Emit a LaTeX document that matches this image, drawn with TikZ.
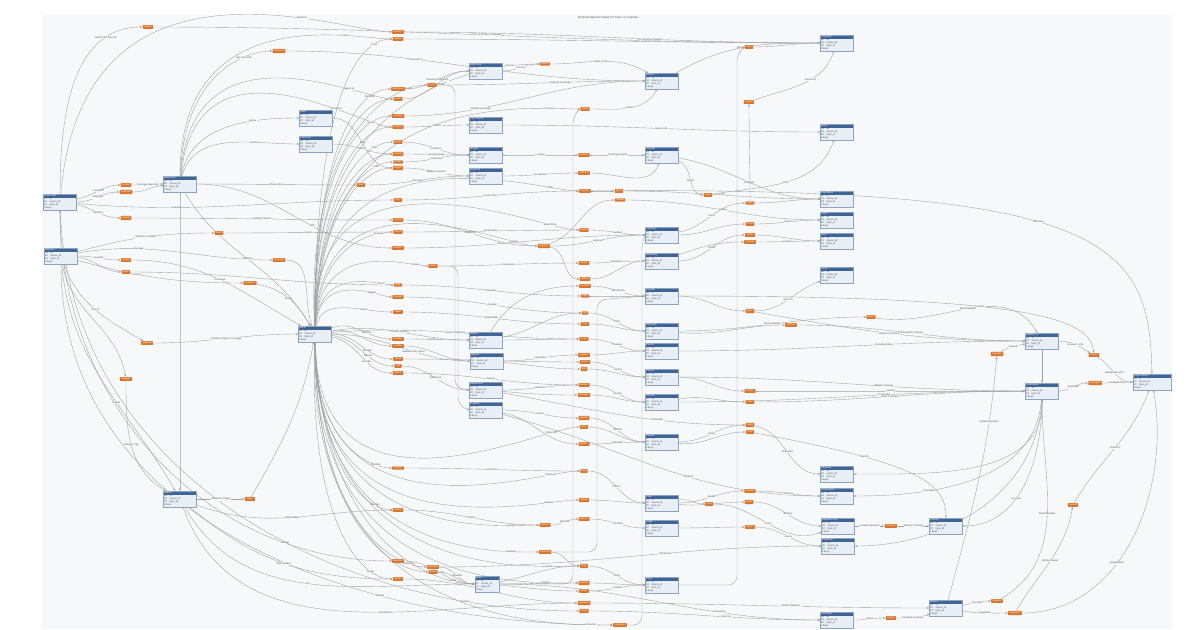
\documentclass[tikz,border=0pt]{standalone}
\usepackage{fontspec}
\setmainfont{Liberation Sans}
\usetikzlibrary{arrows.meta}

\definecolor{canvas}{HTML}{F6F8FA}
\definecolor{hdrblue}{HTML}{3E6596}
\definecolor{rowfill}{HTML}{E8EEF6}
\definecolor{rowline}{HTML}{8EA3BD}
\definecolor{tagorange}{HTML}{D9762C}
\definecolor{linkgray}{HTML}{A2A2A2}
\definecolor{lbltext}{HTML}{505050}

\pgfdeclarelayer{canvaslayer}
\pgfdeclarelayer{wires}
\pgfsetlayers{canvaslayer,wires,main}

\newcommand{\tinyfont}{\fontsize{1.4}{1.75}\selectfont}
% entity box: options, name, position, title
\newcommand{\entity}[4][]{\node[entity,#1] (#2) at (#3) {{\color{white}#4}\\PK\quad id\\FK\quad source\_id\\FK\quad topic\_id\\[0.1pt]3 keys};}
% orange relation tag: name, position, text
\newcommand{\tagnode}[3]{\node[tagbox] (#1) at (#2) {#3};}

\tikzset{
  entity/.style={draw=rowline, fill=rowfill, line width=0.2pt, text width=0.64cm, align=left,
    inner sep=0.3pt, font=\tinyfont, text=lbltext,
    path picture={\fill[hdrblue] (path picture bounding box.north west) rectangle ([yshift=-2.3pt]path picture bounding box.north east);}},
  tagbox/.style={fill=tagorange, rounded corners=0.3pt, inner xsep=0.8pt, inner ysep=0.5pt,
    font=\tinyfont, text=white},
  link/.style={draw=linkgray, line width=0.22pt, -{Stealth[length=1.5pt,width=1.2pt]}},
  lbl/.style={font=\tinyfont, text=lbltext, fill=canvas, inner sep=0.2pt},
  fan/.style={out looseness=1.8, in looseness=0.35},
}

\begin{document}
\begin{tikzpicture}[x=0.02cm, y=-0.02cm]
\useasboundingbox (0,0) rectangle (1199,629);
\begin{pgfonlayer}{canvaslayer}
  \fill[canvas] (42,15) rectangle (1172,629);
\end{pgfonlayer}
\node[font=\fontsize{1.6}{2}\selectfont, text=lbltext] (title) at (608,18) {Temporal Reporter Graph (47 Tags / 17 Capsule)};

% entities
\entity{e1}{60,202}{Search Bot}
\entity{e2}{61,256}{Reporter}
\entity{e3}{180,184}{Newsroom}
\entity{e4}{315,334}{Article}
\entity{e5}{180,499}{Station}
\entity{e6}{316,118}{Editor}
\entity{e7}{316,144}{Columnist}
\entity{e8}{486,71}{Ordinance}
\entity{e9}{486,125}{City Council}
\entity{e10}{486,155}{Budget}
\entity{e11}{486,176}{Proposal}
\entity{e12}{662,81}{Source}
\entity{e13}{662,155}{Hospital}
\entity{e14}{837,43}{Chairman}
\entity{e15}{837,132}{Board}
\entity{e16}{837,199}{Foundation}
\entity{e17}{837,220}{Trust}
\entity{e18}{837,241}{Fund}
\entity{e19}{837,275}{Donor}
\entity{e20}{662,235}{Company}
\entity{e21}{662,261}{Subsidiary}
\entity{e22}{662,296}{Founder}
\entity{e23}{662,331}{Executive}
\entity{e24}{662,351}{Investor}
\entity{e25}{662,377}{Partner}
\entity{e26}{662,402}{Director}
\entity{e27}{486,340}{Official}
\entity{e28}{487,361}{Agency}
\entity{e29}{486,390}{Department}
\entity{e30}{486,410}{Program}
\entity{e31}{662,442}{Lawsuit}
\entity{e32}{662,503}{Court}
\entity{e33}{662,528}{Judge}
\entity{e34}{662,585}{Filing}
\entity[text width=0.46cm]{e35}{487,584}{Event}
\entity{e36}{1042,341}{Holding Co.}
\entity{e37}{1042,391}{Corporation}
\entity[text width=0.74cm]{e38}{1152,382}{Parent Group}
\entity{e39}{837,474}{Regulator}
\entity{e40}{837,496}{Commission}
\entity{e41}{838,526}{Research Lab}
\entity{e42}{838,546}{University}
\entity{e43}{946,526}{Institute}
\entity{e44}{946,608}{Market}
\entity{e45}{837,620}{Exchange}

% tags, first column
\tagnode{c1}{398,32}{mention}
\tagnode{c2}{398,39}{relative}
\tagnode{c3}{398,89}{ordinance}
\tagnode{c4}{398,99}{quote}
\tagnode{c5}{398,116}{coverage}
\tagnode{c6}{398,127}{location}
\tagnode{c7}{398,142}{quote}
\tagnode{c8}{398,154}{funding}
\tagnode{c9}{398,162}{owner}
\tagnode{c10}{398,168}{budget}
\tagnode{c11}{398,200}{story}
\tagnode{c12}{398,220}{partner}
\tagnode{c13}{398,232}{board}
\tagnode{c14}{398,248}{mention}
\tagnode{c15}{398,285}{exec}
\tagnode{c16}{398,297}{founder}
\tagnode{c17}{398,312}{holder}
\tagnode{c18}{398,339}{member}
\tagnode{c19}{398,346}{member}
\tagnode{c20}{398,359}{official}
\tagnode{c21}{398,366}{staff}
\tagnode{c22}{398,373}{advisor}
\tagnode{c23}{398,468}{contract}
\tagnode{c24}{398,510}{partner}
\tagnode{c25}{398,561}{sponsor}
\tagnode{c26}{398,579}{vendor}

% tags, middle column
\tagnode{m1}{585,109}{linked}
\tagnode{m2}{584,155}{location}
\tagnode{m3}{584,173}{cofound}
\tagnode{m4}{585,191}{mention}
\tagnode{m5}{584,230}{board}
\tagnode{m6}{584,263}{subsid.}
\tagnode{m7}{585,279}{affiliate}
\tagnode{m8}{585,286}{founded}
\tagnode{m9}{585,296}{exec}
\tagnode{m10}{585,313}{ceo}
\tagnode{m11}{585,324}{share}
\tagnode{m12}{584,339}{invest}
\tagnode{m13}{584,355}{regulate}
\tagnode{m14}{585,362}{partner}
\tagnode{m15}{584,369}{ally}
\tagnode{m16}{584,385}{director}
\tagnode{m17}{584,395}{manager}
\tagnode{m18}{584,418}{plaintiff}
\tagnode{m19}{584,427}{party}
\tagnode{m20}{584,444}{defend.}
\tagnode{m21}{584,471}{filed}
\tagnode{m22}{584,500}{appeal}
\tagnode{m23}{584,519}{witness}
\tagnode{m24}{584,566}{filing}
\tagnode{m25}{584,583}{hearing}
\tagnode{m26}{584,591}{exhibit}
\tagnode{m27}{584,603}{regulator}
\tagnode{m28}{584,611}{listing}

% tags, right column
\tagnode{r1}{749,47}{chair}
\tagnode{r2}{749,102}{served}
\tagnode{r3}{750,203}{owns}
\tagnode{r4}{750,224}{funds}
\tagnode{r5}{750,235}{parent}
\tagnode{r6}{750,242}{donates}
\tagnode{r7}{750,311}{gives}
\tagnode{r8}{750,391}{investor}
\tagnode{r9}{750,402}{sister}
\tagnode{r10}{750,425}{ruling}
\tagnode{r11}{750,432}{cited}
\tagnode{r12}{750,491}{referred}
\tagnode{r13}{749,502}{study}
\tagnode{r14}{750,527}{alumni}

% other tags
\tagnode{o1}{148,27}{search}
\tagnode{o2}{279,51}{transcript}
\tagnode{o3}{126,185}{located}
\tagnode{o4}{126,192}{employer}
\tagnode{o5}{361,185}{story}
\tagnode{o6}{545,64}{source}
\tagnode{o7}{432,85}{series}
\tagnode{o8}{619,191}{grant}
\tagnode{o9}{620,200}{trustee}
\tagnode{o10}{708,195}{chair}
\tagnode{o11}{126,218}{funding}
\tagnode{o12}{219,233}{funds}
\tagnode{o13}{126,260}{funded}
\tagnode{o14}{126,272}{grant}
\tagnode{o15}{279,260}{coverage}
\tagnode{o16}{250,283}{located in}
\tagnode{o17}{147,343}{program}
\tagnode{o18}{126,379}{category}
\tagnode{o19}{544,246}{acquired}
\tagnode{o20}{433,266}{linked}
\tagnode{o21}{791,325}{cofound}
\tagnode{o22}{250,499}{region}
\tagnode{o23}{545,525}{witness}
\tagnode{o24}{545,552}{summary}
\tagnode{o25}{433,567}{attended}
\tagnode{o26}{433,572}{guest}
\tagnode{o27}{709,504}{grant}
\tagnode{o28}{620,625}{correction}
\tagnode{o29}{871,317}{board}
\tagnode{o30}{997,354}{regulator}
\tagnode{o31}{1094,355}{located}
\tagnode{o32}{1095,383}{employed}
\tagnode{o33}{891,526}{research}
\tagnode{o34}{997,601}{founded}
\tagnode{o35}{1015,613}{regulation}
\tagnode{o36}{1073,505}{owned}
\tagnode{o37}{891,618}{parent}

\begin{pgfonlayer}{wires}
% left boxes
\draw[link] (e1) to[out=90,in=180] node[lbl,pos=.8]{Search Bot Sources} (o1);
\draw[link] (e1) to[out=85,in=180,fan] node[lbl,pos=.7]{Mentions} (c1);
\draw[link] (o1) to[out=0,in=180] node[lbl]{Part of Broader Coverage} (e14);
\draw[link] (e1) to[out=10,in=180] node[lbl]{Located in} (o3);
\draw[link] (e1) to[out=0,in=180] node[lbl]{Employer} (o4);
\draw[link] (o3) to[out=0,in=180] node[lbl]{Coverage Reporting} (e3);
\draw[link] (o4) to[out=0,in=185] (e3);
\draw[link] (e1) to[out=-5,in=180] node[lbl,pos=.3]{Funded} (c11);
\draw[link] (e1) to[out=-10,in=180] node[lbl]{Mentions} (o11);
\draw[link] (o11) to[out=0,in=180] node[lbl]{Funding Partners} (c12);
\draw[link] (e1) to[out=270,in=180] node[lbl,pos=.8]{Sidebar} (c25);
\draw[link] (e1) to[out=272,in=180] node[lbl,pos=.85]{Mentions} (m28);
\draw[link] (e2) to[out=90,in=270] (e1);
\draw[link] (e2) to[out=0,in=180] node[lbl]{Funded} (o13);
\draw[link] (e2) to[out=-5,in=180] (o14);
\draw[link] (e2) to[out=10,in=180] node[lbl,pos=.3]{Coverage} (o15);
\draw[link] (e2) to[out=-15,in=180] node[lbl,pos=.35]{Located} (o16);
\draw[link] (e2) to[out=290,in=150] node[lbl]{Part of} (o17);
\draw[link] (e2) to[out=280,in=100] (o18);
\draw[link] (e2) to[out=15,in=180] node[lbl]{Mentions Funding} (o12);
\draw[link] (e2) to[out=275,in=120] node[lbl,pos=.6]{Region} (e5);
\draw[link] (e2) to[out=270,in=180] node[lbl,pos=.7]{Weekly} (o28);
\draw[link] (o12) to[out=0,in=180] node[lbl]{Funds} (c13);
\draw[link] (o13) to[out=0,in=150] node[lbl]{Coverage} (e4);
\draw[link] (o14) to[out=0,in=180] (c15);
\draw[link] (o15) to[out=0,in=110] (e4);
\draw[link] (o16) to[out=-10,in=120] node[lbl]{Author} (e4);
\draw[link] (o17) to[out=0,in=180] node[lbl]{Includes Program Coverage} (e4);
\draw[link] (o18) to[out=270,in=150] node[lbl]{Category Tag} (e5);
% newsroom
\draw[link] (e3) to[out=90,in=180,fan] node[lbl,pos=.75]{Covers} (c2);
\draw[link] (e3) to[out=88,in=180,fan] node[lbl,pos=.7]{Has Transcript} (o2);
\draw[link] (e3) to[out=86,in=180,fan] node[lbl,pos=.75]{Tagged as} (c4);
\draw[link] (e3) to[out=84,in=180,fan] node[lbl,pos=.7]{Located in} (c6);
\draw[link] (e3) to[out=80,in=180] node[lbl,pos=.7]{Byline} (e6);
\draw[link] (e3) to[out=75,in=180] node[lbl,pos=.7]{Column in} (e7);
\draw[link] (e3) to[out=0,in=180] node[lbl,pos=.6]{Staff} (c14);
\draw[link] (e3) to[out=0,in=180] node[lbl]{Shares Story} (o5);
\draw[link] (o5) to[out=0,in=180] node[lbl]{Coverage} (e11);
\draw[link] (e3) to[out=270,in=90] (e5);
\draw[link] (e3) to[out=300,in=120] node[lbl]{Publishes} (e4);
\draw[link] (o2) to[out=0,in=180] node[lbl,pos=.35]{Transcript of} (e12);
\draw[link] (e6) to[out=0,in=180] node[lbl]{Edits} (c10);
\draw[link] (e7) to[out=0,in=180] node[lbl]{Writes} (c8);
% station
\draw[link] (e5) to[out=0,in=180] node[lbl]{Located in Region} (o22);
\draw[link] (o22) to[out=60,in=260] (e4);
\draw[link] (e5) to[out=-20,in=180] node[lbl]{Board Editor} (c24);
\draw[link] (e5) to[out=-40,in=180] node[lbl]{Sister Station} (c26);
\draw[link] (e5) to[out=-70,in=180] node[lbl,pos=.6]{Broadcasts} (m27);
\draw[link] (e5) to[out=-60,in=180] node[lbl]{Airs} (e35);

% article hub, upward fan
\draw[link] (e4) to[out=90,in=180,fan] node[lbl,pos=.85]{Chair} (c2);
\draw[link] (e4) to[out=90,in=180,fan] node[lbl,pos=.8]{Mentions} (c3);
\draw[link] (e4) to[out=91,in=180,fan] (c4);
\draw[link] (e4) to[out=91,in=180,fan] node[lbl,pos=.8]{Quotes} (c5);
\draw[link] (e4) to[out=90,in=180,fan] (c6);
\draw[link] (e4) to[out=89,in=180,fan] node[lbl,pos=.8]{Cites} (c7);
\draw[link] (e4) to[out=89,in=180,fan] (c8);
\draw[link] (e4) to[out=88,in=180,fan] node[lbl,pos=.8]{Links} (c9);
\draw[link] (e4) to[out=88,in=180,fan] (c10);
\draw[link] (e4) to[out=87,in=180,fan] node[lbl,pos=.8]{Features} (c13);
\draw[link] (e4) to[out=86,in=180,fan] node[lbl,pos=.8]{About} (c15);
\draw[link] (e4) to[out=85,in=180,fan] node[lbl,pos=.7]{Tagged} (c16);
\draw[link] (e4) to[out=80,in=180] node[lbl,pos=.7]{Covers} (c17);
\draw[link] (e4) to[out=92,in=180,fan] node[lbl,pos=.85]{Sources} (o6);
\draw[link] (e4) to[out=93,in=180,fan] node[lbl,pos=.85]{Series} (o7);
\draw[link] (e4) to[out=90,in=180,fan] node[lbl,pos=.85]{Context} (m1);
\draw[link] (e4) to[out=89,in=180,fan] node[lbl,pos=.85]{Profile} (m4);
\draw[link] (e4) to[out=88,in=180,fan] node[lbl,pos=.85]{Follows} (o19);
\draw[link] (e4) to[out=87,in=180,fan] node[lbl,pos=.85]{Names} (o20);
\draw[link] (e4) to[out=91,in=180,fan] node[lbl,pos=.85]{Board Role} (m5);
% article hub, sideways
\draw[link] (e4) to[out=20,in=180] node[lbl,pos=.6]{Member} (c18);
\draw[link] (e4) to[out=10,in=180] (c19);
\draw[link] (e4) to[out=0,in=180] node[lbl,pos=.6]{Member} (c20);
\draw[link] (e4) to[out=-5,in=180] node[lbl,pos=.6]{Director} (c21);
\draw[link] (e4) to[out=-10,in=180] node[lbl,pos=.6]{Member} (c22);
\draw[link] (e4) to[out=5,in=180] node[lbl,pos=.5]{Investor Relations} (m12);
\draw[link] (e4) to[out=0,in=180] node[lbl,pos=.6]{Related Party Topics} (e28);
\draw[link] (e4) to[out=10,in=180] node[lbl]{Profile of Board} (e27);
% article hub, downward fan
\draw[link] (e4) to[out=270,in=180,fan] node[lbl,pos=.8]{Member} (c23);
\draw[link] (e4) to[out=272,in=180,fan] node[lbl,pos=.8]{Member} (c24);
\draw[link] (e4) to[out=268,in=180,fan] node[lbl,pos=.8]{Series} (c26);
\draw[link] (e4) to[out=270,in=180,fan] node[lbl,pos=.85]{Follow-up} (m21);
\draw[link] (e4) to[out=271,in=180,fan] node[lbl,pos=.85]{Update} (m24);
\draw[link] (e4) to[out=269,in=180,fan] node[lbl,pos=.85]{Timeline} (m25);
\draw[link] (e4) to[out=270,in=180,fan] node[lbl,pos=.85]{Response} (o25);
\draw[link] (e4) to[out=270,in=180,fan] (o26);
\draw[link] (e4) to[out=272,in=180,fan] node[lbl,pos=.85]{Recap} (e35);
\draw[link] (e4) to[out=268,in=180,fan] node[lbl,pos=.9]{Correction} (o28);
\draw[link] (e4) to[out=271,in=180,fan] node[lbl,pos=.85]{Follow Up} (m19);
\draw[link] (e4) to[out=269,in=180,fan] node[lbl,pos=.85]{Related} (m22);
\draw[link] (e4) to[out=270,in=180,fan] node[lbl,pos=.85]{Sequel} (o23);
\draw[link] (e4) to[out=270,in=180,fan] node[lbl,pos=.85]{Summary} (o24);

% first tag column to the right
\draw[link] (c1) to[out=0,in=180] node[lbl,pos=.6]{Ex-Chairman Relative} (e14);
\draw[link] (c2) to[out=0,in=180] node[lbl,pos=.6]{Ex-Husband Relative} (e14);
\draw[link] (c3) to[out=0,in=180] node[lbl]{Covering Ordinance} (e8);
\draw[link] (c4) to[out=0,in=180] node[lbl]{Quote in Article} (e8);
\draw[link] (c5) to[out=0,in=180] node[lbl,pos=.3]{Related Coverage} (e12);
\draw[link] (c6) to[out=0,in=180] node[lbl]{Location} (e9);
\draw[link] (c7) to[out=0,in=180] node[lbl]{Quoted in} (e10);
\draw[link] (c8) to[out=0,in=180] node[lbl]{Funding Body} (e10);
\draw[link] (c9) to[out=0,in=180] node[lbl]{Owned by} (e10);
\draw[link] (c10) to[out=0,in=180] node[lbl]{Budget Proposal} (e11);
\draw[link] (c11) to[out=0,in=180] node[lbl]{Covers Story} (m4);
\draw[link] (c12) to[out=0,in=180] node[lbl]{Related to} (o19);
\draw[link] (c13) to[out=0,in=180] node[lbl]{Board Seat} (m5);
\draw[link] (c14) to[out=0,in=180] node[lbl,pos=.4]{Mentions} (e20);
\draw[link] (c15) to[out=0,in=180] node[lbl]{Executive} (m9);
\draw[link] (c16) to[out=0,in=180] node[lbl]{Founder} (m10);
\draw[link] (c17) to[out=0,in=180] node[lbl]{Shareholder} (m11);
\draw[link] (c18) to[out=0,in=180] node[lbl]{Board Member} (e27);
\draw[link] (c19) to[out=0,in=180] (e28);
\draw[link] (c20) to[out=0,in=180] node[lbl]{Official} (m14);
\draw[link] (c21) to[out=0,in=180] node[lbl]{Employee} (e29);
\draw[link] (c22) to[out=0,in=180] node[lbl]{Advisor} (m16);
\draw[link] (c23) to[out=0,in=180] node[lbl]{Contractor} (m21);
\draw[link] (c24) to[out=0,in=180] node[lbl]{Partner} (o23);
\draw[link] (c25) to[out=0,in=180] node[lbl]{Sponsor} (e35);
\draw[link] (c26) to[out=0,in=180] node[lbl]{Vendor} (m27);

% top middle
\draw[link] (e8) to[out=0,in=180] node[lbl]{Sources} (o6);
\draw[link] (o6) to[out=0,in=150] node[lbl]{Article Source} (e12);
\draw[link] (o7) to[out=0,in=180] node[lbl,pos=.6]{Ongoing Coverage} (e12);
\draw[link] (m1) to[out=0,in=240] node[lbl]{Linked} (e12);
\draw[link] (e12) to[out=30,in=180] node[lbl]{Board Member} (e14);
\draw[link] (r1) to[out=0,in=180] (e14);
\draw[link] (r2) to[out=20,in=250] node[lbl,pos=.6]{Served on} (e14);
\draw[link] (r3) to[out=90,in=270] (r2);
\draw[link] (e9) to[out=0,in=180] node[lbl]{Board Link} (e15);
\draw[link] (e10) to[out=0,in=180] node[lbl]{Location} (m2);
\draw[link] (m2) to[out=0,in=180] node[lbl]{Covering Hospital} (e13);
\draw[link] (e11) to[out=0,in=180] node[lbl]{Co-founded} (m3);
\draw[link] (m3) to[out=0,in=250] (e13);
\draw[link] (e13) to[out=-10,in=180] node[lbl]{Affiliated} (e16);
\draw[link] (m4) .. controls (1105,186) and (1150,240) .. node[lbl,pos=.45]{Mentions} (e38);
\draw[link] (m4) to[out=0,in=180] (o8);
\draw[link] (o19) to[out=20,in=180] (o9);
\draw[link] (e13) to[out=-20,in=180] node[lbl]{Board} (o10);
\draw[link] (o8) to[out=0,in=180] node[lbl]{Grant} (e16);
\draw[link] (o9) to[out=0,in=180] node[lbl]{Trustee} (e17);
\draw[link] (o10) to[out=10,in=250] node[lbl]{Chair} (e15);
\draw[link] (r3) to[out=0,in=180] (e16);
\draw[link] (r4) to[out=0,in=180] node[lbl]{Funds} (e17);
\draw[link] (r5) to[out=0,in=180] (e18);
\draw[link] (r6) to[out=0,in=180] node[lbl]{Donates} (e18);
\draw[link] (r7) to[out=0,in=200] node[lbl]{Gives to} (e19);
\draw[link] (e20) to[out=0,in=180] (r4);
\draw[link] (e20) to[out=10,in=180] node[lbl]{Owns} (r3);
\draw[link] (e21) to[out=0,in=180] node[lbl]{Parent} (r5);
\draw[link] (e21) to[out=20,in=180] (r6);
\draw[link] (e22) to[out=0,in=180] (r7);

% middle tag column into the boxes
\draw[link] (m5) to[out=0,in=180] node[lbl]{Founded} (e20);
\draw[link] (o19) to[out=0,in=180] node[lbl]{Acquired} (e20);
\draw[link] (m6) to[out=0,in=180] node[lbl]{Subsidiary of} (e21);
\draw[link] (m7) to[out=0,in=180] (e21);
\draw[link] (m8) to[out=0,in=180] node[lbl]{Founded by} (e22);
\draw[link] (m9) to[out=0,in=180] (e22);
\draw[link] (m10) to[out=0,in=180] node[lbl]{CEO} (e23);
\draw[link] (m11) to[out=0,in=180] (e23);
\draw[link] (m12) to[out=0,in=180] node[lbl]{Invested} (e24);
\draw[link] (m13) to[out=0,in=180] (e24);
\draw[link] (m14) to[out=0,in=180] node[lbl]{Partner} (e25);
\draw[link] (m15) to[out=0,in=180] (e25);
\draw[link] (m16) to[out=0,in=180] node[lbl]{Director} (e26);
\draw[link] (m17) to[out=0,in=180] (e26);
\draw[link] (m18) to[out=0,in=180] node[lbl]{Plaintiff} (e31);
\draw[link] (m19) to[out=0,in=180] (e31);
\draw[link] (m20) to[out=0,in=180] node[lbl]{Defendant} (e31);
\draw[link] (m21) to[out=0,in=180] node[lbl]{Filed in} (e32);
\draw[link] (m22) to[out=0,in=180] (e32);
\draw[link] (m23) to[out=0,in=180] node[lbl]{Presided} (e33);
\draw[link] (m24) to[out=0,in=180] node[lbl]{Filing} (e34);
\draw[link] (m25) to[out=0,in=180] (e34);
\draw[link] (m26) to[out=0,in=180] node[lbl]{Exhibit} (e34);
\draw[link] (m27) to[out=0,in=180] node[lbl,pos=.6]{Market Regulator} (e44);
\draw[link] (m28) to[out=0,in=180] node[lbl,pos=.6]{Listed on} (e45);
\draw[link] (o20) to[out=0,in=180] node[lbl]{Connected} (m6);
\draw[link] (o19) to[out=-10,in=180] (m7);
\draw[link] (e27) to[out=60,in=180] (m8);
\draw[link] (e27) to[out=0,in=180] node[lbl]{Appointed} (m12);
\draw[link] (e27) to[out=10,in=180] (m10);
\draw[link] (e28) to[out=0,in=180] node[lbl]{Regulates} (m13);
\draw[link] (e28) to[out=-5,in=180] (m15);
\draw[link] (e29) to[out=0,in=180] node[lbl]{Oversees} (m16);
\draw[link] (e29) to[out=-5,in=180] (m17);
\draw[link] (e30) to[out=0,in=180] node[lbl]{Funds} (m18);
\draw[link] (e30) to[out=-10,in=180] (m20);
\draw[link] (e35) to[out=0,in=180] node[lbl]{Hosted} (m25);
\draw[link] (e35) to[out=10,in=180] (m24);
\draw[link] (e35) to[out=-5,in=180] (m26);
\draw[link] (o23) to[out=0,in=180] node[lbl]{Witness} (m23);
\draw[link] (o24) to[out=0,in=180] (m24);
\draw[link] (o25) to[out=0,in=180] node[lbl]{Attended} (e35);
\draw[link] (o26) to[out=0,in=180] (e35);
\draw[link] (e29) to[out=-10,in=180] node[lbl,pos=.65]{Partnership} (r10);
\draw[link] (e30) to[out=-15,in=180] node[lbl,pos=.6]{Contract} (e40);
\draw[link] (o25) to[out=0,in=180] node[lbl,pos=.6]{Mentioned} (e42);
\draw[link] (e35) to[out=0,in=180] node[lbl,pos=.7]{Covered by} (e45);
% routed lines
\draw[link, rounded corners=5] (o7.east) -| (455,388) -- (e29.west);
\draw[link, rounded corners=5] (o20.east) -| (458,406) -- (e30.west);
\draw[link, rounded corners=5] (e35.east) -| (573,114) -- (m1.west);
\draw[link, rounded corners=5] (e34.east) -| (737,52) -- (r1.west);
\draw[link, rounded corners=5] (o28.east) -| (642,240) -- (e20.west);
\draw[link, rounded corners=5] (o24.east) -| (597,300) -- (e22.west);

% right side
\draw[link] (e23) to[out=0,in=180] node[lbl]{Board Member} (o29);
\draw[link] (e23) to[out=-5,in=180] (o21);
\draw[link] (o29) to[out=-10,in=120] node[lbl]{Board Member} (e36);
\draw[link] (o21) to[out=0,in=180] node[lbl]{Co-founded Company} (e36);
\draw[link] (r7) to[out=-10,in=180] node[lbl]{Board of Directors} (e36);
\draw[link] (e24) to[out=0,in=180] node[lbl,pos=.6]{Founding Entity} (e36);
\draw[link] (e22) .. controls (1040,296) and (1090,320) .. node[lbl,pos=.4]{Founder} (o31);
\draw[link] (e36) to[out=0,in=150] node[lbl]{Located in City} (o31);
\draw[link] (o31) to[out=-30,in=180] node[lbl]{Headquartered in} (e38);
\draw[link] (e25) to[out=0,in=180] node[lbl,pos=.6]{Affiliate Company} (e37);
\draw[link] (e26) to[out=0,in=180] node[lbl,pos=.6]{Co-founded} (e37);
\draw[link] (e25) to[out=0,in=180] (r8);
\draw[link] (e26) to[out=10,in=180] (r9);
\draw[link] (r8) to[out=0,in=180] node[lbl]{Investor} (e37);
\draw[link] (r9) to[out=0,in=180] node[lbl]{Sister Company} (e37);
\draw[link] (e37) to[out=0,in=180] node[lbl]{Employed} (o32);
\draw[link] (o32) to[out=0,in=180] node[lbl]{Headquartered} (e38);
\draw[link] (e36) to[out=270,in=90] (e37);
\draw[link] (e31) to[out=0,in=180] node[lbl]{Ruling} (r10);
\draw[link] (e31) to[out=-5,in=180] (r11);
\draw[link] (r10) to[out=-10,in=180] node[lbl]{Reviewed} (e39);
\draw[link] (r11) .. controls (910,462) and (946,480) .. node[lbl,pos=.3]{Cited by} (e43);
\draw[link] (e32) to[out=0,in=180] node[lbl]{Appeal} (r12);
\draw[link] (e32) to[out=-5,in=180] (r13);
\draw[link] (e32) to[out=10,in=180] (o27);
\draw[link] (r12) to[out=0,in=180] node[lbl]{Referred} (e40);
\draw[link] (r13) to[out=0,in=180] node[lbl]{Studied} (e41);
\draw[link] (e33) to[out=0,in=180] (r14);
\draw[link] (r14) to[out=0,in=180] node[lbl]{Alumni} (e42);
\draw[link] (o27) to[out=0,in=200] node[lbl]{Grant} (e41);
\draw[link] (e41) to[out=0,in=180] node[lbl]{Created Research} (o33);
\draw[link] (o33) to[out=0,in=180] node[lbl]{Member of Board} (e43);
\draw[link] (e45) to[out=0,in=180] node[lbl]{Parent} (o37);
\draw[link] (o37) to[out=0,in=200] node[lbl]{Founding Company} (e44);
\draw[link] (e44) to[out=75,in=265] node[lbl,pos=.75]{Market Regulator} (o30);
\draw[link] (o30) to[out=30,in=190] node[lbl]{Located} (e36);
\draw[link] (e44) to[out=10,in=180] node[lbl]{Founded} (o34);
\draw[link] (o34) to[out=30,in=270] node[lbl]{Board Member} (e37);
\draw[link] (e44) to[out=-10,in=180] node[lbl]{Regulation} (o35);
\draw[link] (o35) to[out=60,in=260] node[lbl]{Wholly Owned} (o36);
\draw[link] (o36) to[out=60,in=250] node[lbl]{Parent of} (e38);
\draw[link] (o35) to[out=0,in=280] node[lbl,pos=.4]{Registered in} (e38);
\draw[link] (e37) to[out=270,in=0] node[lbl,pos=.6]{Co-Fund} (e43);
\draw[link] (e37) to[out=268,in=0] node[lbl,pos=.7]{Member of} (e42);
\draw[link] (e37) to[out=266,in=0] node[lbl,pos=.7]{Oral Sketch} (e40);
\draw[link] (e37) to[out=272,in=0] (e39);
\end{pgfonlayer}
\end{tikzpicture}
\end{document}
